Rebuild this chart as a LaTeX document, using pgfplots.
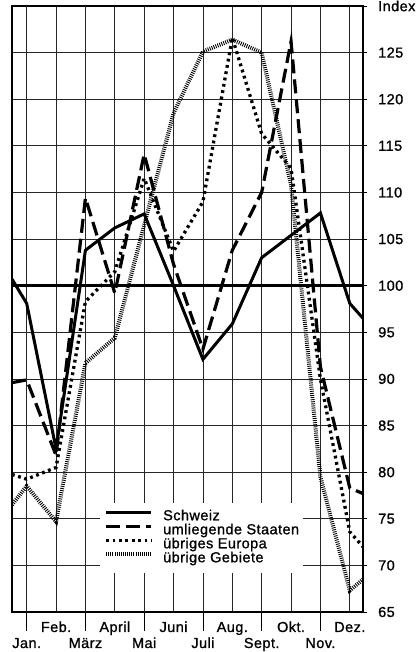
\documentclass[border=0pt]{standalone}
\usepackage{fontspec}
\setmainfont{Liberation Sans}[LetterSpace=3,FakeBold=1]
\usepackage{pgfplots}
\pgfplotsset{compat=1.18}
\begin{document}
\fontsize{14.5bp}{17bp}\selectfont
\begin{tikzpicture}
\begin{axis}[
  scale only axis, width=351bp, height=606bp,
  xmin=0.5, xmax=12.45, ymin=65, ymax=130,
  axis line style={line width=1.8bp},
  xmajorgrids, ymajorgrids,
  major grid style={line width=0.75bp, black!85},
  tick align=outside,
  xtick pos=bottom, ytick pos=right, yticklabel pos=right,
  ytick={65,70,...,130},
  yticklabels={65,70,75,80,85,90,95,100,105,110,115,120,125,Index},
  major tick length=4bp,
  tick style={line width=0.75bp, black},
  yticklabel style={anchor=west, inner sep=0pt, xshift=11bp},
  xtick={2,4,...,12},
  xticklabels={Feb.,April,Juni,Aug.,Okt.,Dez.},
  xtick style={draw=none},
  xticklabel style={anchor=base, inner sep=0pt, yshift=-16bp},
  extra x ticks={1,3,...,11},
  extra x tick labels={Jan.,März,Mai,Juli,Sept.,Nov.},
  extra x tick style={major tick length=19bp, xtick style={draw=black, line width=0.75bp}, xticklabel style={yshift=-1bp}},
  legend style={at={(rel axis cs:0.2507,0.0644)}, anchor=south west, draw=none, fill=white,
    inner xsep=4bp, inner ysep=7bp, row sep=0bp, /tikz/column sep=10bp,
    nodes={inner sep=0pt, text height=10.5bp, text depth=3.5bp}},
  legend cell align=left,
  legend image code/.code={\draw[#1] (0bp,0.3em) -- (45bp,0.3em);},
]
\addplot[line width=2.8bp, black, forget plot] coordinates {(0.5,100) (12.45,100)};
\addplot[black, line width=3bp] coordinates {
 (0.5,100.7) (1,98.1) (2,82.5) (3,103.8) (4,106.2) (5,107.7) (6,100) (7,92.1)
 (8,95.9) (9,103) (10,105.4) (11,107.8) (12,98.1) (12.45,96.5)};
\addlegendentry{Schweiz}
\addplot[black, line width=3.2bp, dash pattern=on 14bp off 6bp] coordinates {
 (0.5,89.6) (1,89.9) (2,81.8) (3,109.4) (4,99.2) (5,114.1) (6,102.3) (7,93.2)
 (8,103.8) (9,110) (10,126.2) (11,91.3) (12,78.3) (12.45,77.7)};
\addlegendentry{umliegende Staaten}
\addplot[black, line width=3.3bp, dash pattern=on 2.8bp off 3.6bp] coordinates {
 (0.5,79.75) (1,79.25) (2,80.5) (3,98.3) (4,101.5) (5,111.5) (6,103.7) (7,109)
 (8,126.6) (9,116.3) (10,112.6) (11,90) (12,73.6) (12.45,72)};
\addlegendentry{übriges Europa}
\addplot[black, line width=4bp, dash pattern=on 0.9bp off 1.2bp] coordinates {
 (0.5,76.5) (1,78.5) (2,74.7) (3,91.7) (4,94.4) (5,106.5) (6,118.5) (7,125.1)
 (8,126.4) (9,125) (10,110.8) (11,79.5) (12,67.3) (12.45,68.5)};
\addlegendentry{übrige Gebiete}
\end{axis}
\pgfresetboundingbox
\path[use as bounding box] ([xshift=-12bp,yshift=-40bp]current axis.south west) rectangle ([xshift=54bp,yshift=6bp]current axis.north east);
\end{tikzpicture}
\end{document}
